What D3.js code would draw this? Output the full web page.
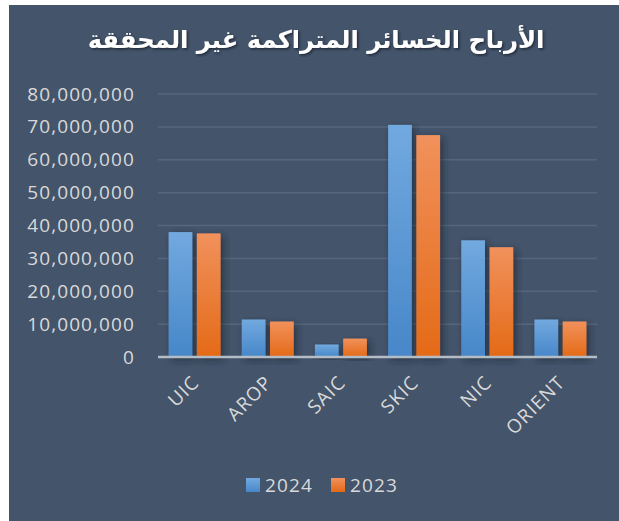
<!DOCTYPE html>
<html>
<head>
<meta charset="utf-8">
<script src="https://cdn.jsdelivr.net/npm/d3@7"></script>
<style>
  body { margin: 0; background: #ffffff; }
  svg { display: block; }
  .tick text, .lbl { fill: #d9d9d9; font-family: "Open Sans", sans-serif; }
</style>
</head>
<body>
<script>
// Chart data
const chartTitle = 'الأرباح الخسائر المتراكمة غير المحققة';
const companies = ['UIC', 'AROP', 'SAIC', 'SKIC', 'NIC', 'ORIENT'];
const seriesNames = ['2024', '2023'];
const values2024 = [38000000, 11400000, 3800000, 70600000, 35500000, 11400000];
const values2023 = [37600000, 10800000, 5600000, 67500000, 33400000, 10800000];
const yTicks = [0, 10000000, 20000000, 30000000, 40000000, 50000000, 60000000, 70000000, 80000000];

const W = 619, H = 521;
const margin = { left: 158, right: 22, top: 94, bottom: 164 };

const svg = d3.select('body').append('svg')
  .attr('width', W)
  .attr('height', H);

const defs = svg.append('defs');

// Gradients for bars
const grads = [
  { id: 'g2024', top: '#72a9df', bottom: '#4787c9' },
  { id: 'g2023', top: '#f1915c', bottom: '#e46a17' }
];
grads.forEach(g => {
  const lg = defs.append('linearGradient')
    .attr('id', g.id)
    .attr('x1', 0).attr('y1', 0).attr('x2', 0).attr('y2', 1);
  lg.append('stop').attr('offset', '0%').attr('stop-color', g.top);
  lg.append('stop').attr('offset', '100%').attr('stop-color', g.bottom);
});

const shadow = defs.append('filter')
  .attr('id', 'barShadow')
  .attr('x', '-30%').attr('y', '-10%').attr('width', '170%').attr('height', '130%');
shadow.append('feDropShadow')
  .attr('dx', 3).attr('dy', 3)
  .attr('stdDeviation', 3.5)
  .attr('flood-color', '#1a2230')
  .attr('flood-opacity', 0.65);

const titleShadow = defs.append('filter').attr('id', 'titleShadow');
titleShadow.append('feDropShadow')
  .attr('dx', 1.5).attr('dy', 1.5)
  .attr('stdDeviation', 1.2)
  .attr('flood-color', '#1a2230')
  .attr('flood-opacity', 0.8);

// Background panel
svg.append('rect')
  .attr('x', 9).attr('y', 5)
  .attr('width', W - 9).attr('height', H - 5)
  .attr('fill', '#44546a');

// Title
const title = svg.append('text')
  .attr('x', 316)
  .attr('y', 48)
  .attr('text-anchor', 'middle')
  .attr('direction', 'rtl')
  .attr('fill', '#ffffff')
  .attr('font-family', '"DejaVu Sans", sans-serif')
  .attr('font-weight', 'bold')
  .attr('font-size', 24)
  .attr('filter', 'url(#titleShadow)')
  .text(chartTitle);
const tLen = title.node().getComputedTextLength();
title.attr('font-size', 24 * 457 / tLen);

// Scales
const x0 = d3.scaleBand()
  .domain(companies)
  .range([margin.left, W - margin.right])
  .paddingInner(0.29)
  .paddingOuter(0.145);

const x1 = d3.scaleBand()
  .domain(seriesNames)
  .range([0, x0.bandwidth()])
  .paddingInner(0.16);

const y = d3.scaleLinear()
  .domain([0, 80000000])
  .range([H - margin.bottom, margin.top]);

// Gridlines
svg.append('g')
  .selectAll('line')
  .data(yTicks.slice(1))
  .join('line')
  .attr('x1', margin.left)
  .attr('x2', W - margin.right)
  .attr('y1', d => y(d))
  .attr('y2', d => y(d))
  .attr('stroke', '#56667c')
  .attr('stroke-width', 1.5);

// Y axis
const yAxis = svg.append('g')
  .attr('transform', 'translate(' + margin.left + ',0)')
  .call(d3.axisLeft(y).tickValues(yTicks).tickFormat(d3.format(',')).tickSize(0).tickPadding(23));
yAxis.select('.domain').remove();
yAxis.selectAll('text')
  .attr('class', 'lbl')
  .attr('font-size', 19)
  .attr('letter-spacing', 1.1);

// Bars
const rows = companies.map((c, i) => ({ name: c, vals: [values2024[i], values2023[i]] }));
const groups = svg.append('g')
  .selectAll('g')
  .data(rows)
  .join('g')
  .attr('transform', d => 'translate(' + x0(d.name) + ',0)');

groups.selectAll('rect')
  .data(d => d.vals.map((v, j) => ({ key: seriesNames[j], value: v })))
  .join('rect')
  .attr('x', d => x1(d.key))
  .attr('y', d => y(d.value))
  .attr('width', x1.bandwidth())
  .attr('height', d => y(0) - y(d.value))
  .attr('fill', d => d.key === '2024' ? 'url(#g2024)' : 'url(#g2023)')
  .attr('filter', 'url(#barShadow)');

// Base line
svg.append('line')
  .attr('x1', margin.left)
  .attr('x2', W - margin.right)
  .attr('y1', y(0))
  .attr('y2', y(0))
  .attr('stroke', '#b4bcc6')
  .attr('stroke-width', 2.5);

// X axis labels
svg.append('g')
  .selectAll('text')
  .data(companies)
  .join('text')
  .attr('class', 'lbl')
  .attr('font-size', 19)
  .attr('letter-spacing', 1.1)
  .attr('text-anchor', 'end')
  .attr('transform', d => 'translate(' + (x0(d) + x0.bandwidth() / 2 + 1) + ',' + (y(0) + 22) + ') rotate(-45)')
  .attr('dy', '0.35em')
  .text(d => d);

// Legend
const legend = svg.append('g');
const legendX = [246, 331];
const legendColors = ['url(#g2024)', 'url(#g2023)'];
seriesNames.forEach((s, i) => {
  legend.append('rect')
    .attr('x', legendX[i])
    .attr('y', 478)
    .attr('width', 14)
    .attr('height', 14)
    .attr('fill', legendColors[i]);
  legend.append('text')
    .attr('class', 'lbl')
    .attr('x', legendX[i] + 19)
    .attr('y', 492)
    .attr('font-size', 19)
    .attr('letter-spacing', 1.1)
    .text(s);
});
</script>
</body>
</html>
